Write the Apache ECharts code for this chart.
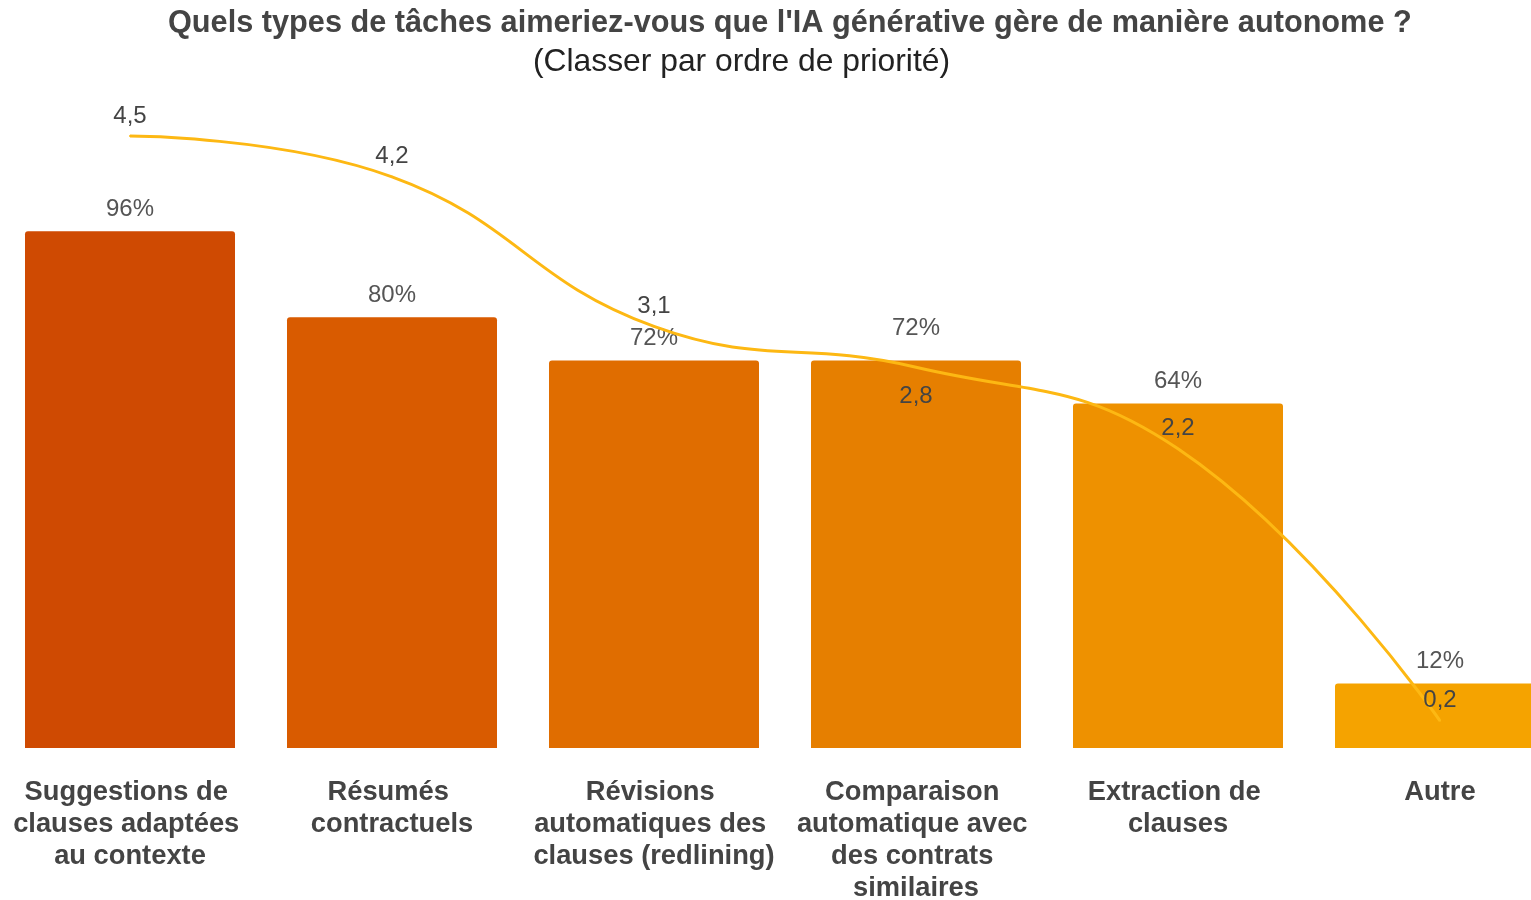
<!DOCTYPE html>
<html>
<head>
<meta charset="utf-8">
<script src="https://cdn.jsdelivr.net/npm/echarts@6/dist/echarts.min.js"></script>
<style>
  html, body { margin: 0; padding: 0; background: #fff; }
  #chart { width: 1531px; height: 900px; }
</style>
</head>
<body>
<div id="chart"></div>
<script>
// données du graphique
const categories = [
  'Suggestions de clauses adaptées au contexte',
  'Résumés contractuels',
  'Révisions automatiques des clauses (redlining)',
  'Comparaison automatique avec des contrats similaires',
  'Extraction de clauses',
  'Autre'
]
const percentValues = [96, 80, 72, 72, 64, 12]   // barres (%)
const priorityScores = [4.5, 4.2, 3.1, 2.8, 2.2, 0.2]  // courbe (score moyen)

const barColors = ['#CF4A02', '#D95B00', '#E06D00', '#E67F00', '#EE9100', '#F5A300']
const lineColor = '#FDB813'
const fontFamily = 'Liberation Sans, Arial, sans-serif'

const chart = echarts.init(document.getElementById('chart'))

let option = {
  animation: false,
  textStyle: { fontFamily: fontFamily },
  title: [
    {
      text: "Quels types de tâches aimeriez-vous que l'IA générative gère de manière autonome ?",
      left: 163,
      top: 3,
      textStyle: { fontSize: 30.7, fontWeight: 'bold', color: '#444', fontFamily: fontFamily }
    },
    {
      text: '(Classer par ordre de priorité)',
      left: 528,
      top: 41,
      textStyle: { fontSize: 31.8, fontWeight: 'normal', color: '#222', fontFamily: fontFamily }
    }
  ],
  grid: {
    left: -1,
    top: 102,
    width: 1572, // la dernière barre sort du cadre à droite
    bottom: 152,
    containLabel: false,
    outerBoundsMode: 'none'
  },
  xAxis: {
    type: 'category',
    data: categories,
    axisTick: { show: false },
    axisLine: { show: false },
    axisLabel: {
      interval: 0,
      margin: 28,
      width: 250,
      overflow: 'break',
      fontSize: 27.3,
      lineHeight: 32,
      fontWeight: 'bold',
      color: '#444'
    }
  },
  yAxis: [
    { type: 'value', min: 0, max: 120, show: false, splitLine: { show: false } },
    { type: 'value', min: 0, max: 4.75, show: false, splitLine: { show: false } }
  ],
  series: [
    {
      type: 'bar',
      barWidth: 210,
      data: percentValues.map((v, i) => ({
        value: v,
        itemStyle: { color: barColors[i] },
        label: { distance: i === 3 ? 20 : 10 }
      })),
      itemStyle: { borderRadius: [3, 3, 0, 0] },
      label: {
        show: true,
        position: 'top',
        fontSize: 24,
        color: '#555',
        formatter: p => p.value + '%'
      },
      z: 2
    },
    {
      type: 'line',
      yAxisIndex: 1,
      smooth: 0.45,
      data: priorityScores.map((v, i) => ({
        value: v,
        label: i === 3 ? { position: 'bottom', distance: 16 } : { position: 'top', distance: 7 }
      })),
      symbol: 'circle',
      symbolSize: 2,
      itemStyle: { color: lineColor },
      lineStyle: { color: lineColor, width: 3 },
      label: {
        show: true,
        fontSize: 24,
        color: '#444',
        formatter: p => String(p.value).replace('.', ',')
      },
      z: 3
    }
  ]
}
chart.setOption(option)
</script>
</body>
</html>
